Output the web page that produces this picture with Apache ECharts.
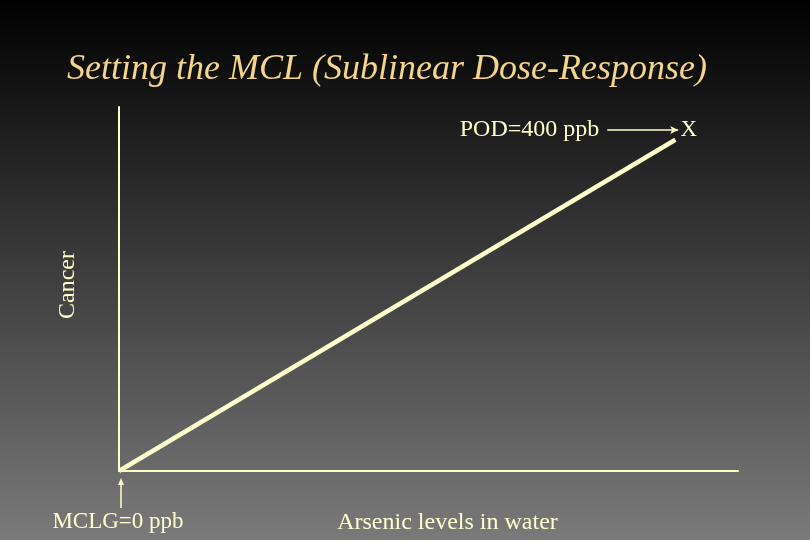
<!DOCTYPE html>
<html>
<head>
<meta charset="utf-8">
<script src="https://cdn.jsdelivr.net/npm/echarts@6/dist/echarts.min.js"></script>
<style>
  html, body { margin: 0; padding: 0; }
  #chart { width: 810px; height: 540px; }
</style>
</head>
<body>
<div id="chart"></div>
<script>
// dose (ppb) and relative cancer response along the linear extrapolation
const doses = [0, 400];
const responses = [0, 0.91];
const labelMCLG = "MCLG=0 ppb";
const labelPOD = "POD=400 ppb";

const myChart = echarts.init(document.getElementById("chart"));
const cream = "#ffffcc";
const serif = "Liberation Serif, Times New Roman, serif";

const option = {
  backgroundColor: new echarts.graphic.LinearGradient(0, 0, 0, 1, [
    {offset: 0, color: "#000000"},
    {offset: 1, color: "#7a7a7a"}
  ]),
  title: {
    text: "Setting the MCL (Sublinear Dose-Response)",
    left: 62,
    top: 47,
    textStyle: {
      color: "#f5d48c",
      fontFamily: serif,
      fontStyle: "italic",
      fontWeight: "normal",
      fontSize: 36
    }
  },
  grid: {left: 119, right: 72, top: 107, bottom: 68},
  xAxis: {
    type: "value",
    min: 0,
    max: 445,
    name: "Arsenic levels in water",
    nameLocation: "middle",
    nameGap: 40,
    nameTextStyle: {color: cream, fontFamily: serif, fontSize: 24, padding: [0, 0, 0, 38]},
    axisLine: {lineStyle: {color: cream, width: 2}},
    axisTick: {show: false},
    axisLabel: {show: false},
    splitLine: {show: false}
  },
  yAxis: {
    type: "value",
    min: 0,
    max: 1,
    name: "Cancer",
    nameLocation: "middle",
    nameGap: 39,
    nameTextStyle: {color: cream, fontFamily: serif, fontSize: 24, padding: [0, 0, 0, 8]},
    axisLine: {show: true, lineStyle: {color: cream, width: 2}},
    axisTick: {show: false},
    axisLabel: {show: false},
    splitLine: {show: false}
  },
  series: [
    {
      type: "line",
      data: doses.map((d, i) => [d, responses[i]]),
      showSymbol: false,
      clip: false,
      silent: true,
      lineStyle: {color: cream, width: 4.5},
      markPoint: {
        symbol: "circle",
        symbolSize: 0,
        label: {
          show: true,
          formatter: "X",
          position: "right",
          offset: [0, -10],
          color: cream,
          fontFamily: serif,
          fontSize: 23
        },
        data: [{coord: [doses[1], responses[1]]}]
      },
      markLine: {
        silent: true,
        symbol: ["none", "arrow"],
        symbolSize: [6, 8],
        lineStyle: {color: cream, width: 1.5, type: "solid"},
        label: {show: true, color: cream, fontFamily: serif, fontSize: 24},
        data: [
          [
            {coord: [351, 0.937], label: {formatter: labelPOD, position: "start", distance: 8}},
            {coord: [402, 0.937]}
          ]
        ]
      }
    }
  ]
};

myChart.setOption(option);

// arrow under the origin pointing at MCLG, placed from the axis scale
const origin = myChart.convertToPixel({gridIndex: 0}, [doses[0], responses[0]]);
const ax = origin[0] + 2;
myChart.setOption({
  graphic: [
    {
      type: "line",
      silent: true,
      shape: {x1: ax, y1: origin[1] + 37, x2: ax, y2: origin[1] + 12},
      style: {stroke: cream, lineWidth: 1.5}
    },
    {
      type: "polygon",
      silent: true,
      shape: {points: [[ax - 3, origin[1] + 14], [ax + 3, origin[1] + 14], [ax, origin[1] + 7]]},
      style: {fill: cream}
    },
    {
      type: "text",
      silent: true,
      x: ax - 3,
      y: origin[1] + 51,
      style: {
        text: labelMCLG,
        fill: cream,
        font: "23px " + serif,
        align: "center",
        verticalAlign: "middle"
      }
    }
  ]
});
</script>
</body>
</html>
